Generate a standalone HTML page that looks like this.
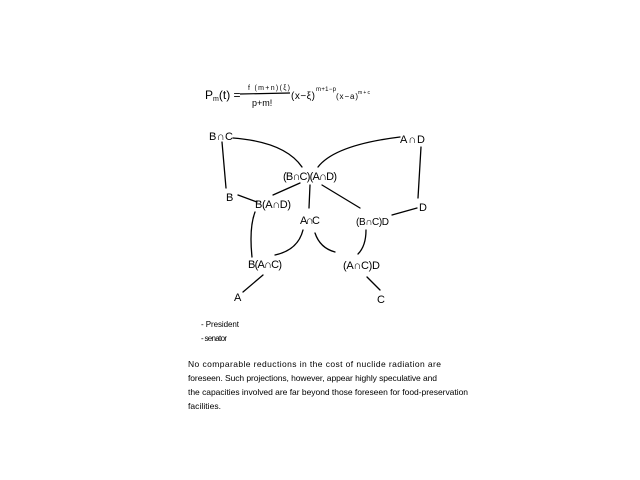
<!DOCTYPE html>
<html><head><meta charset="utf-8"><style>
html,body{margin:0;padding:0;background:#fff}
svg{display:block}
text{font-family:"Liberation Sans",sans-serif;fill:#000}
</style></head><body>
<svg width="640" height="480" viewBox="0 0 640 480">
<g>
<text x="205" y="99" font-size="12">P<tspan font-size="7" dy="2">m</tspan><tspan dy="-2">(t) =</tspan></text>
<text x="248" y="90" font-size="7" textLength="42">f (m+n)(ξ)</text>
<line x1="240" y1="94" x2="290" y2="93" stroke="#000" stroke-width="1.2"/>
<text x="252" y="106" font-size="9">p+m!</text>
<text x="291" y="99" font-size="10" textLength="24">(x−ξ)</text>
<text x="316" y="91" font-size="6" textLength="20">m+1−p</text>
<text x="336" y="99" font-size="8" textLength="22">(x−a)</text>
<text x="358" y="94" font-size="5" textLength="12">m+c</text>
</g>
<g fill="none" stroke="#000" stroke-width="1.3" stroke-linecap="round">
<path d="M233 138 Q285 142 302 167"/>
<path d="M400 137 Q335 145 318 167"/>
<path d="M222 142 L226 188"/>
<path d="M421 147 L418 198"/>
<path d="M238 195 L257 202"/>
<path d="M300 183 L273 195"/>
<path d="M310 185 L309 208"/>
<path d="M322 185 L360 208"/>
<path d="M417 208 L392 215"/>
<path d="M255 212 Q249 228 252 257"/>
<path d="M303 230 Q298 250 275 255"/>
<path d="M315 233 Q320 248 335 252"/>
<path d="M366 230 Q366 246 358 254"/>
<path d="M263 275 L243 292"/>
<path d="M367 277 L380 290"/>
</g>
<g font-size="11">
<text x="209" y="140" textLength="24">B∩C</text>
<text x="400" y="143" textLength="25">A∩D</text>
<text x="283" y="180" textLength="54">(B∩C)(A∩D)</text>
<text x="226" y="201">B</text>
<text x="255" y="208" textLength="36">B(A∩D)</text>
<text x="300" y="224" textLength="20">A∩C</text>
<text x="356" y="225" font-size="10" textLength="33">(B∩C)D</text>
<text x="419" y="211">D</text>
<text x="248" y="268" textLength="34">B(A∩C)</text>
<text x="343" y="269" textLength="37">(A∩C)D</text>
<text x="234" y="301">A</text>
<text x="377" y="303">C</text>
</g>
<g font-size="8">
<text x="201" y="327" textLength="38">- President</text>
<text x="201" y="341" textLength="26">- senator</text>
</g>
<g font-size="8.5">
<text x="188" y="367" textLength="253">No comparable reductions in the cost of nuclide radiation are</text>
<text x="188" y="381" textLength="249">foreseen. Such projections, however, appear highly speculative and</text>
<text x="188" y="395" textLength="280">the capacities involved are far beyond those foreseen for food-preservation</text>
<text x="188" y="409" textLength="33">facilities.</text>
</g>
</svg>
</body></html>
